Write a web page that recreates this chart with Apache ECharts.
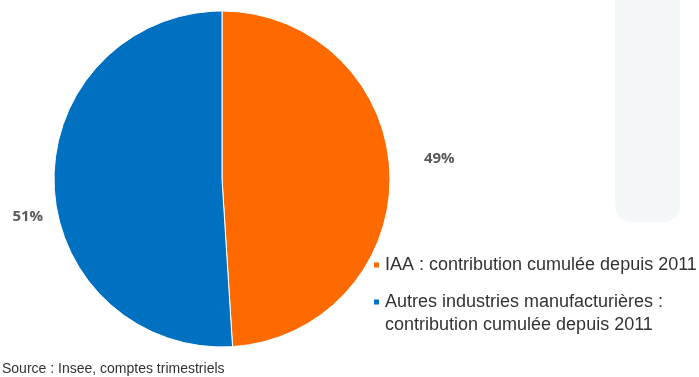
<!DOCTYPE html>
<html>
<head>
<meta charset="utf-8">
<script src="https://cdn.jsdelivr.net/npm/echarts@6/dist/echarts.min.js"></script>
<style>
  html, body { margin: 0; padding: 0; background: #ffffff; }
  #chart { width: 699px; height: 377px; }
</style>
</head>
<body>
<div id="chart"></div>
<script>
// Parts of the cumulated contribution since 2011
const categories = [
  'IAA : contribution cumulée depuis 2011',
  'Autres industries manufacturières : contribution cumulée depuis 2011'
];
const legendLabels = [
  'IAA : contribution cumulée depuis 2011',
  // leading empty line keeps the first text line level with the square
  '\nAutres industries manufacturières :\ncontribution cumulée depuis 2011'
];
const shares = [49, 51];
const sliceColors = ['#ff6a00', '#0070c0'];
const sourceText = 'Source : Insee, comptes trimestriels';

const chart = echarts.init(document.getElementById('chart'), null, { renderer: 'canvas' });

const legendText = {
  fontFamily: '"Liberation Sans", Arial, sans-serif',
  fontSize: 18,
  lineHeight: 23,
  color: '#333333'
};

function makeLegend(i, top) {
  return {
    orient: 'vertical',
    left: 372,
    top: top,
    padding: 0,
    itemWidth: 7,
    itemHeight: 7,
    icon: 'rect',
    data: [categories[i]],
    formatter: function () { return legendLabels[i]; },
    textStyle: legendText
  };
}

// label nudges, in pixels, away from the default outside position
const labelShift = [
  { dx: -1, dy: -14 },
  { dx: 24, dy: 32 }
];

const option = {
  animation: false,
  backgroundColor: '#ffffff',
  color: sliceColors,
  graphic: [
    {
      type: 'rect',
      silent: true,
      z: -10,
      shape: { x: 615, y: -30, width: 65, height: 252, r: 16 },
      style: { fill: '#f5f8f9' }
    },
    {
      type: 'text',
      left: 2,
      top: 362,
      style: {
        text: sourceText,
        fill: '#333333',
        font: '14px "Liberation Sans", Arial, sans-serif'
      }
    }
  ],
  legend: [makeLegend(0, 253.5), makeLegend(1, 267.5)],
  series: [
    {
      type: 'pie',
      center: [222, 179],
      radius: 168,
      startAngle: 90,
      clockwise: true,
      avoidLabelOverlap: false,
      itemStyle: { borderColor: '#ffffff', borderWidth: 1 },
      label: {
        show: true,
        position: 'outside',
        formatter: function (p) { return p.value + '%'; },
        fontFamily: '"Open Sans", "DejaVu Sans", sans-serif',
        fontWeight: 'bold',
        fontSize: 15,
        color: '#595959'
      },
      labelLine: { show: false, length: 20, length2: 10 },
      labelLayout: function (p) {
        return labelShift[p.dataIndex];
      },
      data: categories.map(function (name, i) {
        return { name: name, value: shares[i] };
      })
    }
  ]
};

chart.setOption(option);
</script>
</body>
</html>
